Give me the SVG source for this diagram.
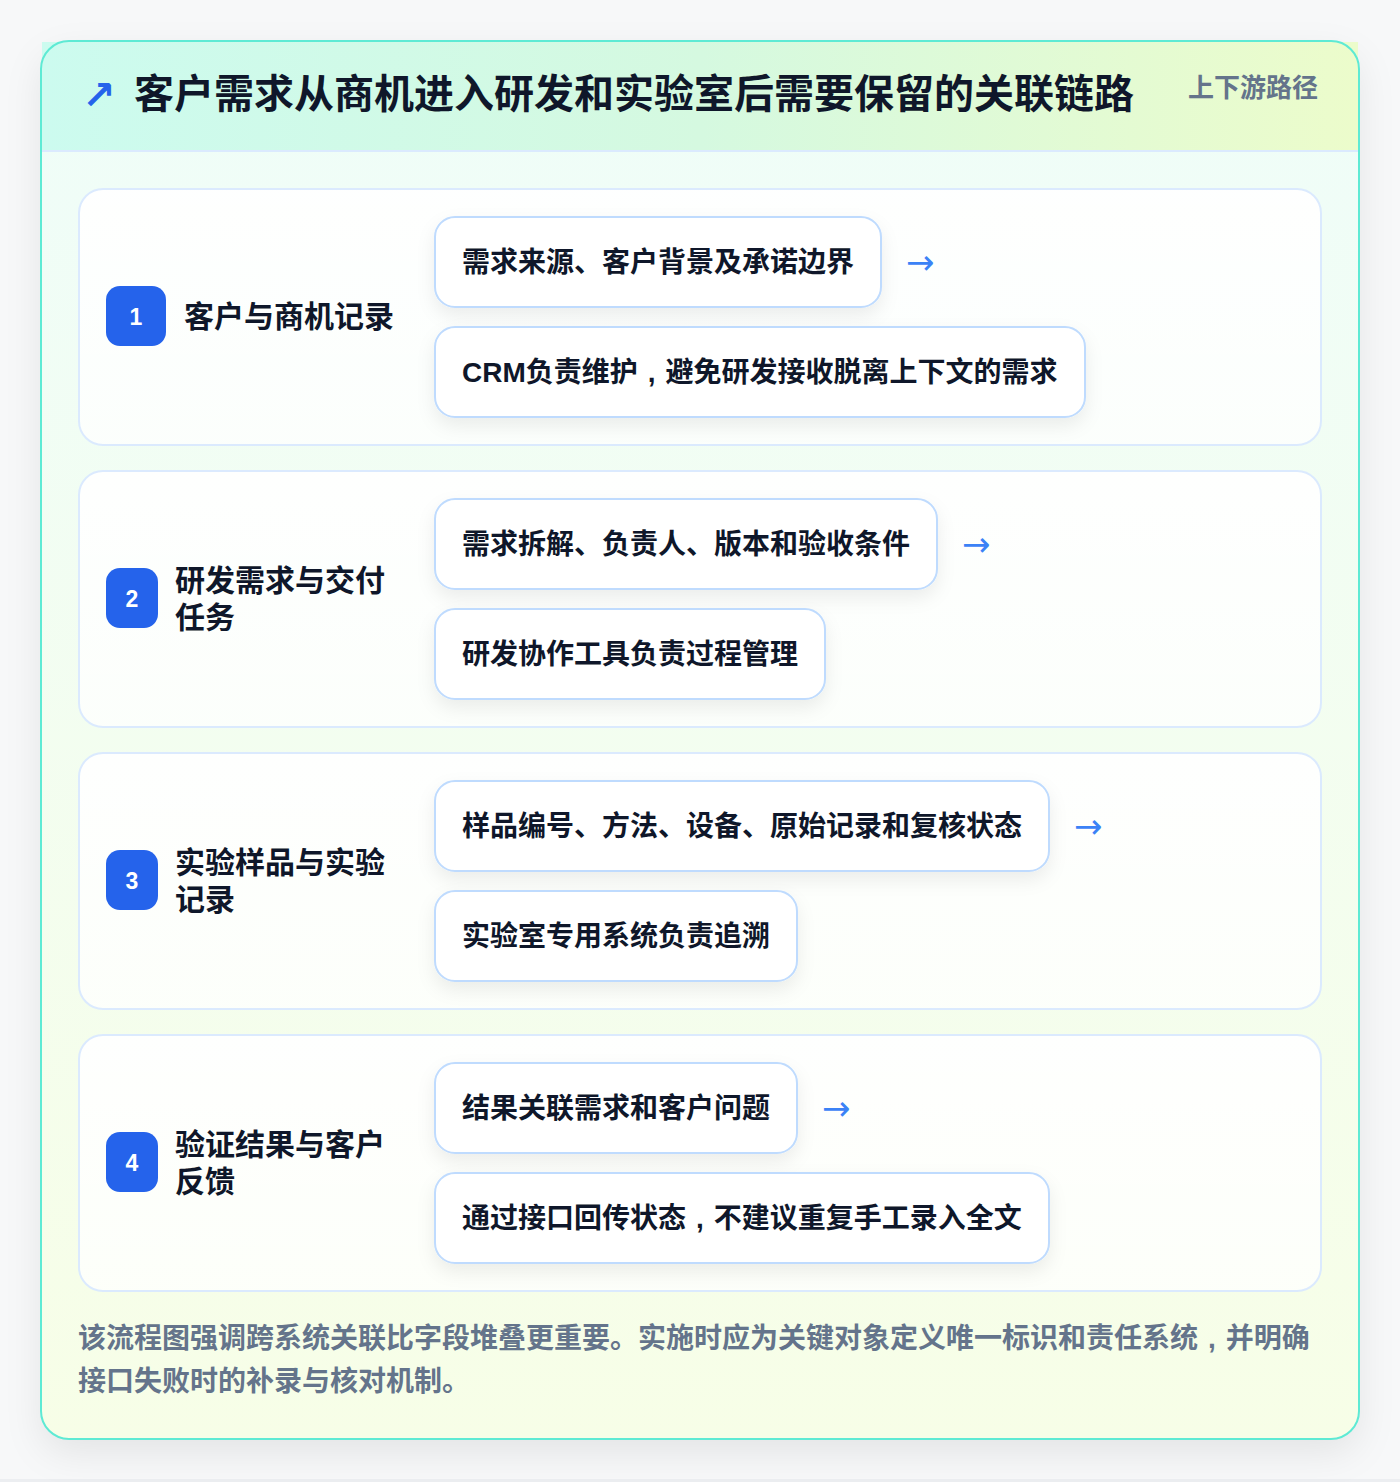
<svg xmlns="http://www.w3.org/2000/svg" width="1400" height="1482" viewBox="0 0 1400 1482">
  <defs>
    <linearGradient id="bodyGrad" x1="0" y1="0" x2="0" y2="1">
      <stop offset="0" stop-color="#effdf9"/>
      <stop offset="1" stop-color="#f7fee7"/>
    </linearGradient>
    <linearGradient id="headGrad" x1="0" y1="0" x2="1" y2="0">
      <stop offset="0" stop-color="#ccfbef"/>
      <stop offset="0.5" stop-color="#d5f9e0"/>
      <stop offset="1" stop-color="#ecfccb"/>
    </linearGradient>
    <linearGradient id="cardGrad" x1="0" y1="0" x2="0" y2="1">
      <stop offset="0" stop-color="#ffffff" stop-opacity="0.95"/>
      <stop offset="1" stop-color="#ffffff" stop-opacity="0.75"/>
    </linearGradient>
    <filter id="outerShadow" x="-10%" y="-10%" width="120%" height="120%">
      <feDropShadow dx="0" dy="14" stdDeviation="18" flood-color="#0f172a" flood-opacity="0.08"/>
    </filter>
    <filter id="pillShadow" x="-20%" y="-40%" width="140%" height="190%">
      <feDropShadow dx="0" dy="8" stdDeviation="9" flood-color="#0f172a" flood-opacity="0.07"/>
    </filter>
    <style>
      .card { fill: url(#cardGrad); stroke: #dbeafe; stroke-width: 2; }
      .pill { fill: #ffffff; stroke: #bfdbfe; stroke-width: 2; filter: url(#pillShadow); }
      .badge { fill: #2563eb; }
      .num { font-family: "Liberation Sans", Arial, sans-serif; font-weight: 700; font-size: 23px; fill: #ffffff; text-anchor: middle; }
      .label { font-family: "Liberation Sans", "Noto Sans CJK SC", sans-serif; font-weight: 700; font-size: 30px; fill: #0f172a; }
      .ptext { font-family: "Liberation Sans", "Noto Sans CJK SC", sans-serif; font-weight: 700; font-size: 28px; fill: #0f172a; }
      .arrow { font-family: "DejaVu Sans", "Liberation Sans", sans-serif; font-size: 34px; fill: #3b82f6; }
      .title { font-family: "Liberation Sans", "Noto Sans CJK SC", sans-serif; font-weight: 700; font-size: 40px; fill: #0f172a; }
      .tag { font-family: "Liberation Sans", "Noto Sans CJK SC", sans-serif; font-weight: 700; font-size: 26px; fill: #64748b; }
      .foot { font-family: "Liberation Sans", "Noto Sans CJK SC", sans-serif; font-weight: 700; font-size: 28px; fill: #64748b; }
      .cm { font-family: "Liberation Sans", sans-serif; }
    </style>
  </defs>

  <rect x="0" y="0" width="1400" height="1482" fill="#f7f8f9"/>
  <rect x="0" y="1479" width="1400" height="3" fill="#eceef1"/>

  <g id="container">
    <rect x="41" y="41" width="1318" height="1398" rx="28" fill="url(#bodyGrad)" filter="url(#outerShadow)"/>
    <rect x="42" y="42" width="1316" height="109" fill="url(#headGrad)"/>
    <line x1="42" y1="151" x2="1358" y2="151" stroke="#dbeafe" stroke-width="2"/>
    <rect x="41" y="41" width="1318" height="1398" rx="28" fill="none" stroke="#5eead4" stroke-width="2"/>
  </g>

  <g id="header">
    <text x="82" y="109" font-family="DejaVu Sans, sans-serif" font-weight="700" font-size="40" fill="#2563eb">↗</text>
    <text class="title" x="134" y="108">客户需求从商机进入研发和实验室后需要保留的关联链路</text>
    <text class="tag" x="1188" y="97">上下游路径</text>
  </g>

  <g id="row1">
    <rect class="card" x="79" y="189" width="1242" height="256" rx="24"/>
    <rect class="badge" x="106" y="286" width="60" height="60" rx="14"/>
    <text class="num" x="136" y="325">1</text>
    <text class="label" x="184" y="327">客户与商机记录</text>
  </g>
  <g id="row1-pill1">
    <rect class="pill" x="435" y="217" width="446" height="90" rx="20"/>
    <text class="ptext" x="462" y="272">需求来源、客户背景及承诺边界</text>
  </g>
  <g id="row1-pill2">
    <rect class="pill" x="435" y="327" width="650" height="90" rx="20"/>
    <text class="ptext" x="462" y="382">CRM负责维护<tspan class="cm" dx="10">,</tspan><tspan dx="10">避免研发接收脱离上下文的需求</tspan></text>
  </g>

  <g id="row2">
    <rect class="card" x="79" y="471" width="1242" height="256" rx="24"/>
    <rect class="badge" x="106" y="568" width="52" height="60" rx="14"/>
    <text class="num" x="132" y="607">2</text>
    <text class="label" x="175" y="591">研发需求与交付</text>
    <text class="label" x="175" y="628">任务</text>
  </g>
  <g id="row2-pill1">
    <rect class="pill" x="435" y="499" width="502" height="90" rx="20"/>
    <text class="ptext" x="462" y="554">需求拆解、负责人、版本和验收条件</text>
  </g>
  <g id="row2-pill2">
    <rect class="pill" x="435" y="609" width="390" height="90" rx="20"/>
    <text class="ptext" x="462" y="664">研发协作工具负责过程管理</text>
  </g>

  <g id="row3">
    <rect class="card" x="79" y="753" width="1242" height="256" rx="24"/>
    <rect class="badge" x="106" y="850" width="52" height="60" rx="14"/>
    <text class="num" x="132" y="889">3</text>
    <text class="label" x="175" y="873">实验样品与实验</text>
    <text class="label" x="175" y="910">记录</text>
  </g>
  <g id="row3-pill1">
    <rect class="pill" x="435" y="781" width="614" height="90" rx="20"/>
    <text class="ptext" x="462" y="836">样品编号、方法、设备、原始记录和复核状态</text>
  </g>
  <g id="row3-pill2">
    <rect class="pill" x="435" y="891" width="362" height="90" rx="20"/>
    <text class="ptext" x="462" y="946">实验室专用系统负责追溯</text>
  </g>

  <g id="row4">
    <rect class="card" x="79" y="1035" width="1242" height="256" rx="24"/>
    <rect class="badge" x="106" y="1132" width="52" height="60" rx="14"/>
    <text class="num" x="132" y="1171">4</text>
    <text class="label" x="175" y="1155">验证结果与客户</text>
    <text class="label" x="175" y="1192">反馈</text>
  </g>
  <g id="row4-pill1">
    <rect class="pill" x="435" y="1063" width="362" height="90" rx="20"/>
    <text class="ptext" x="462" y="1118">结果关联需求和客户问题</text>
  </g>
  <g id="row4-pill2">
    <rect class="pill" x="435" y="1173" width="614" height="90" rx="20"/>
    <text class="ptext" x="462" y="1228">通过接口回传状态<tspan class="cm" dx="10">,</tspan><tspan dx="10">不建议重复手工录入全文</tspan></text>
  </g>

  <g id="connectors">
    <text class="arrow" x="906" y="274">→</text>
    <text class="arrow" x="962" y="556">→</text>
    <text class="arrow" x="1074" y="838">→</text>
    <text class="arrow" x="822" y="1120">→</text>
  </g>

  <g id="footer">
    <text class="foot" x="78" y="1348">该流程图强调跨系统关联比字段堆叠更重要。实施时应为关键对象定义唯一标识和责任系统<tspan class="cm" dx="10">,</tspan><tspan dx="10">并明确</tspan></text>
    <text class="foot" x="78" y="1391">接口失败时的补录与核对机制。</text>
  </g>
</svg>
